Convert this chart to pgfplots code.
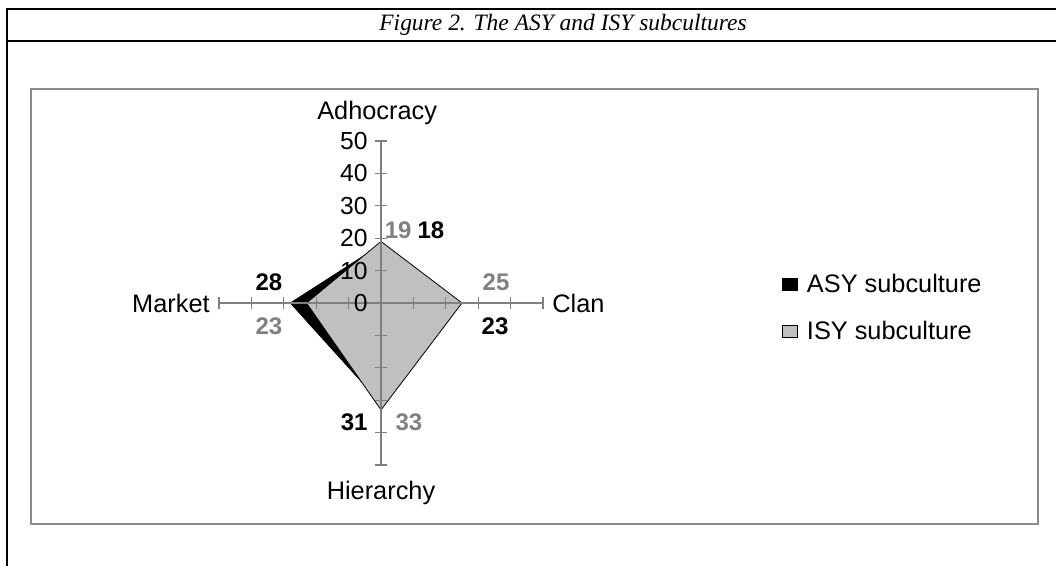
\documentclass[border=0pt]{standalone}
\usepackage{pgfplots}
\pgfplotsset{compat=1.18}
\usepackage{fontspec}
\setmainfont{Liberation Sans}
\newfontfamily\timesfont{Liberation Serif}
\definecolor{axgray}{HTML}{808080}
\definecolor{isyfill}{HTML}{C0C0C0}
\definecolor{lblgray}{HTML}{808080}
\definecolor{boxgray}{HTML}{8C8C8C}
\begin{document}
\begin{tikzpicture}
\path[use as bounding box] (0,0) rectangle (792pt,424.5pt);
\begin{scope}[x=0.75pt,y=0.75pt]
 \draw[line width=1.5pt] (6,557) -- (1056,557);
 \draw[line width=1.5pt] (6,525) -- (1056,525);
 \draw[line width=1.5pt] (7,558) -- (7,0);
 \draw[boxgray, line width=0.9pt] (31,477) rectangle (1038,42);
 \node[font=\timesfont\itshape\fontsize{17.6}{20}\selectfont] at (563,541) {Figure 2. The ASY and ISY subcultures};
\end{scope}
\begin{axis}[
  at={(285.75pt,197.25pt)}, anchor=center,
  scale only axis, width=243pt, height=243pt,
  xmin=-50, xmax=50, ymin=-50, ymax=50,
  axis lines=middle,
  axis line style={draw=axgray, line width=0.8pt, -},
  every inner x axis line/.append style={-},
  every inner y axis line/.append style={-},
  xtick={-50,-40,-30,-20,-10,10,20,30,40,50},
  xticklabels={},
  ytick={0,10,20,30,40,50},
  extra y ticks={-50,-40,-30,-20,-10},
  extra y tick labels={},
  hide obscured y ticks=false,
  tick align=center,
  major tick length=9pt,
  tick style={draw=axgray, line width=0.8pt},
  /pgf/number format/assume math mode=true,
  yticklabel style={font=\fontsize{18.5}{20}\selectfont, anchor=east, xshift=-2pt},
  axis on top,
  clip=false,
  legend style={at={(1.725,0.484)}, anchor=west, draw=none, fill=none,
    font=\fontsize{19}{21}\selectfont, row sep=16pt, column sep=5pt},
  legend cell align=left,
  legend image code/.code={\draw[#1] (0pt,-4.5pt) rectangle (11pt,4.5pt);},
]
\addplot[fill=black, draw=black, line width=0.5pt] coordinates {(0,18) (23,0) (0,-31) (-28,0) (0,18)};
\addlegendentry{ASY subculture}
\addplot[fill=isyfill, draw=black, line width=0.6pt] coordinates {(0,19) (25,0) (0,-33) (-23,0) (0,19)};
\addlegendentry{ISY subculture}
\node[font=\fontsize{19}{22}\selectfont] at (axis cs:-1.2,58.6) {Adhocracy};
\node[font=\fontsize{19}{22}\selectfont] at (axis cs:0,-58.6) {Hierarchy};
\node[font=\fontsize{19}{22}\selectfont, anchor=west, inner sep=0pt] at (axis cs:52.8,0) {Clan};
\node[font=\fontsize{19}{22}\selectfont, anchor=east, inner sep=0pt] at (axis cs:-52.8,0) {Market};
\node[font=\bfseries\fontsize{18}{20}\selectfont, text=lblgray] at (axis cs:5.3,22.5) {19};
\node[font=\bfseries\fontsize{18}{20}\selectfont, text=black] at (axis cs:15.4,22.5) {18};
\node[font=\bfseries\fontsize{18}{20}\selectfont, text=lblgray] at (axis cs:35.5,6.5) {25};
\node[font=\bfseries\fontsize{18}{20}\selectfont, text=black] at (axis cs:35.2,-7.1) {23};
\node[font=\bfseries\fontsize{18}{20}\selectfont, text=black] at (axis cs:-8.3,-36.7) {31};
\node[font=\bfseries\fontsize{18}{20}\selectfont, text=lblgray] at (axis cs:8.6,-36.7) {33};
\node[font=\bfseries\fontsize{18}{20}\selectfont, text=black] at (axis cs:-34.6,6.5) {28};
\node[font=\bfseries\fontsize{18}{20}\selectfont, text=lblgray] at (axis cs:-34.6,-7.1) {23};
\end{axis}
\end{tikzpicture}
\end{document}
